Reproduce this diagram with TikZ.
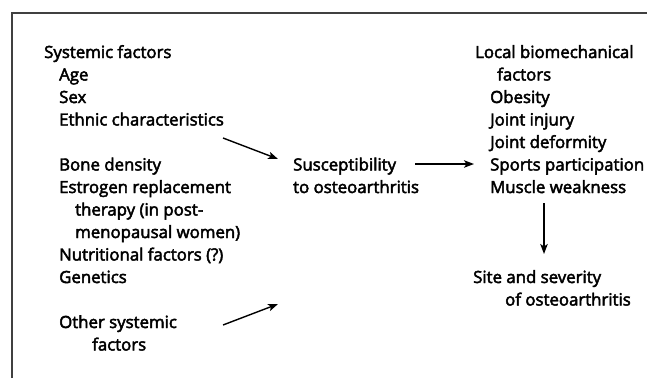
\documentclass[tikz,border=0pt]{standalone}
\usepackage{fontspec}
\setmainfont{Open Sans}[FakeBold=2.8]
\usepackage{tikz}
\usetikzlibrary{arrows.meta}

\tikzset{
    txt/.style={anchor=base west, inner sep=0pt, font=\fontsize{16.8}{20}\selectfont},
    arr/.style={-{Stealth[length=10pt, width=7.5pt, inset=2.5pt]}, line width=1.4pt},
}

\begin{document}
\begin{tikzpicture}[x=1pt, y=-1pt]
    \useasboundingbox (0,0) rectangle (648,378);
    \draw[line width=1.2pt, black!75] (12,378) -- (12,13) -- (647,13);

    % systemic factors
    \node[txt] (sys) at (44,58) {Systemic factors};
    \node[txt] (age) at (59,80.5) {Age};
    \node[txt] (sex) at (59,103) {Sex};
    \node[txt] (eth) at (59,125.5) {Ethnic characteristics};
    \node[txt] (bone) at (59,170.5) {Bone density};
    \node[txt] (estr) at (59,193) {Estrogen replacement};
    \node[txt] (ther) at (75,215.5) {therapy (in post-};
    \node[txt] (meno) at (75,238) {menopausal women)};
    \node[txt] (nutr) at (59,260.5) {Nutritional factors (?)};
    \node[txt] (gen) at (59,283) {Genetics};
    \node[txt] (oth) at (59,328) {Other systemic};
    \node[txt] (othf) at (92,350.5) {factors};

    % susceptibility
    \node[txt] (sus) at (293,170.5) {Susceptibility};
    \node[txt] (sust) at (293,193) {to osteoarthritis};

    % local factors
    \node[txt] (loc) at (475,58) {Local biomechanical};
    \node[txt] (locf) at (497,80.5) {factors};
    \node[txt] (obe) at (490,103) {Obesity};
    \node[txt] (inj) at (490,125.5) {Joint injury};
    \node[txt] (def) at (490,148) {Joint deformity};
    \node[txt] (spo) at (490,170.5) {Sports participation};
    \node[txt] (mus) at (490,193) {Muscle weakness};

    % site and severity
    \node[txt] (site) at (473,283) {Site and severity};
    \node[txt] (sitet) at (505,305.5) {of osteoarthritis};

    \coordinate (a1) at (223,138);
    \coordinate (b1) at (278,159);
    \coordinate (a2) at (223,325);
    \coordinate (b2) at (278,304);
    \coordinate (a3) at (415,164);
    \coordinate (b3) at (474,164);
    \coordinate (a4) at (544,203);
    \coordinate (b4) at (544,254);

    \draw[arr] (a1) -- (b1);
    \draw[arr] (a2) -- (b2);
    \draw[arr] (a3) -- (b3);
    \draw[arr] (a4) -- (b4);
\end{tikzpicture}
\end{document}
